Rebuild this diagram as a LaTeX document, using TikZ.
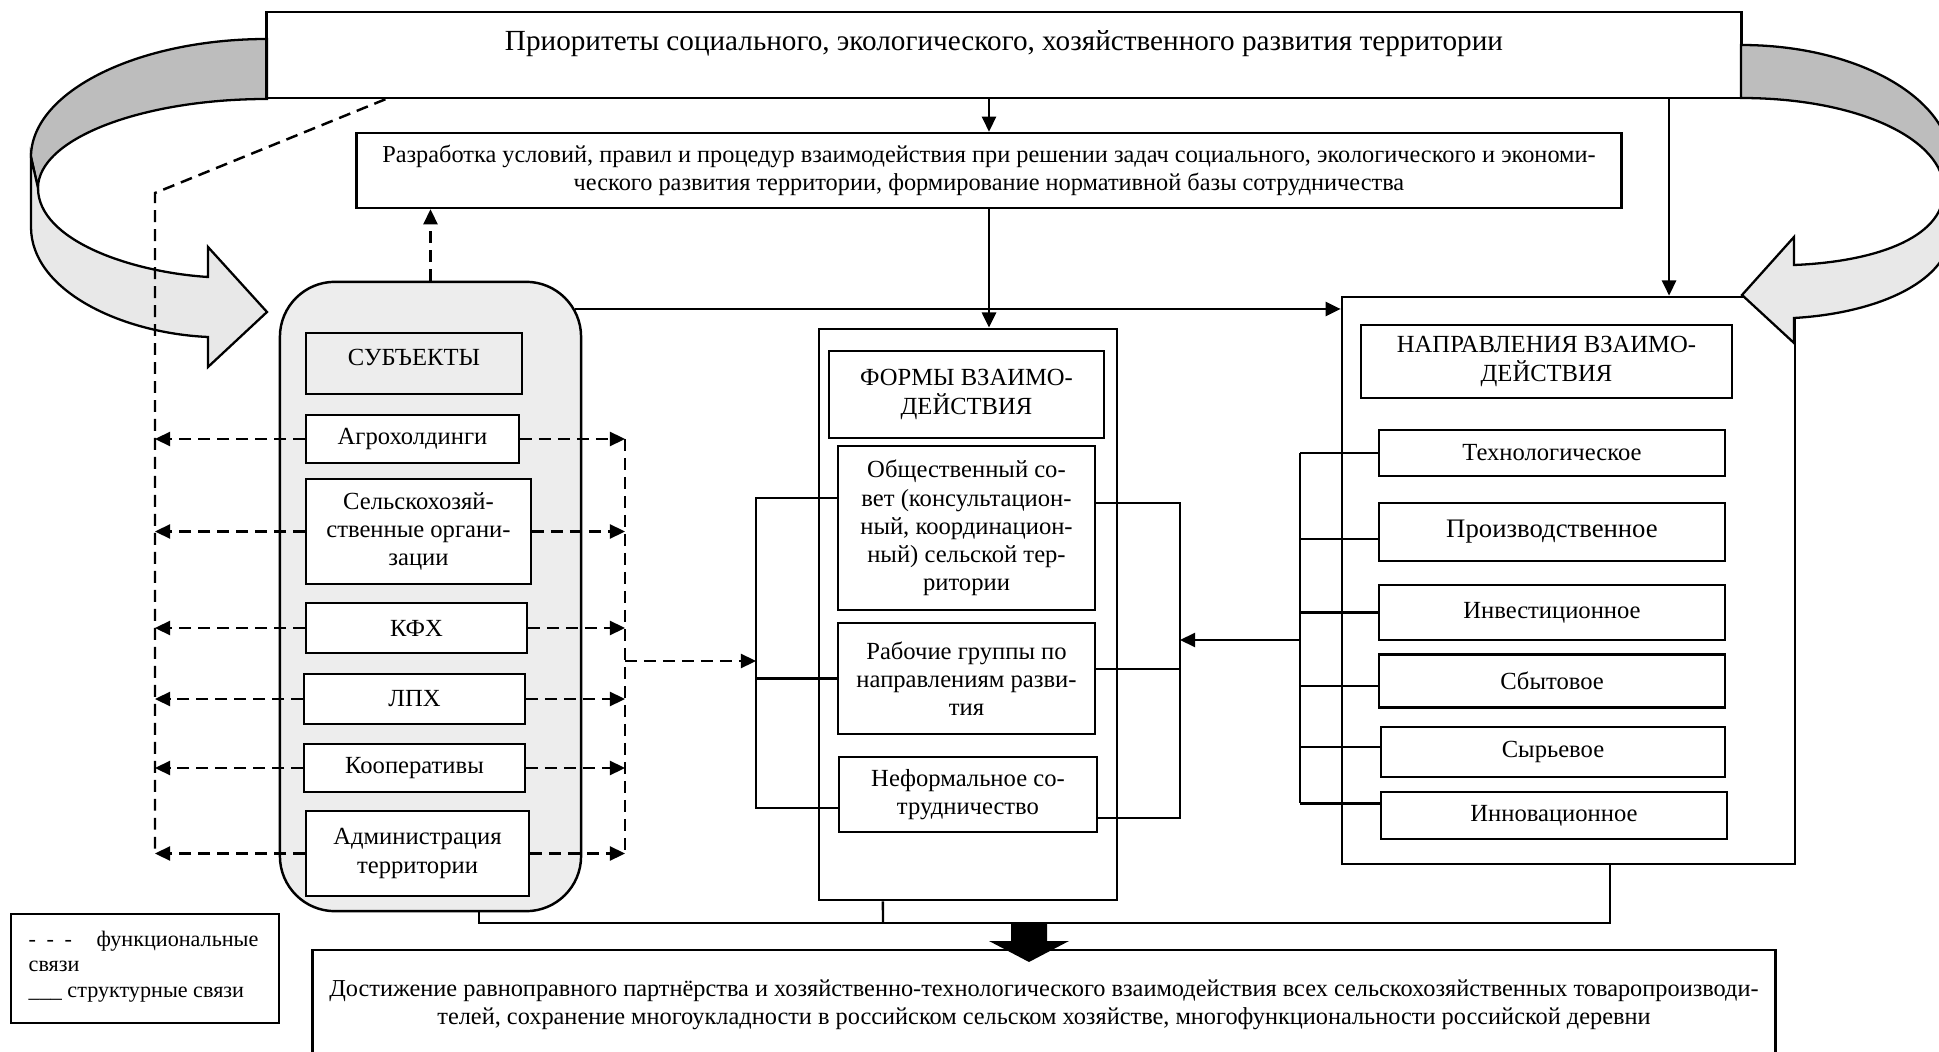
\documentclass[tikz,border=0pt]{standalone}
\usepackage{fontspec}
\setmainfont{Liberation Serif}
\usetikzlibrary{arrows.meta}
\newcommand\boxfont{\fontsize{7}{8}\selectfont}
\newcommand\longfont{\fontsize{6.92}{8}\selectfont}
\newcommand\bigfont{\fontsize{7.6}{8.6}\selectfont}
\newcommand\titlefont{\fontsize{8.3}{10}\selectfont}
\newcommand\legendfont{\fontsize{6.3}{7.3}\selectfont}

\begin{document}
\begin{tikzpicture}
    [x=0.01cm, y=-0.01cm, >={Triangle[length=4.3pt,width=4pt]},
     bigbox/.style={draw, line width=0.7pt, inner sep=0pt},
     box/.style={draw, line width=0.45pt, inner sep=0pt, align=center, font=\boxfont},
     dirbox/.style={box, line width=0.7pt},
     conn/.style={line width=0.7pt},
     func/.style={line width=0.7pt, dash pattern=on 3.4pt off 2pt},
     darkband/.style={draw, line width=0.65pt, fill=black!26},
     lightband/.style={draw, line width=0.65pt, fill=black!9}]
    \useasboundingbox (0,0) rectangle (1939,1052);
    \clip (0,0) rectangle (1939,1052);

    % left curved arrow
    \path[darkband] (267,39) .. controls (137,39) and (31,92) .. (31,157)
        -- (38,188) .. controls (38,139) and (141,99) .. (267,99) -- cycle;
    \path[lightband] (38,188) .. controls (38,240) and (130,272) .. (208,277)
        -- (208,247) -- (267,312) -- (208,367) -- (208,337)
        .. controls (120,333) and (31,290) .. (31,227) -- (31,157) -- cycle;

    % top boxes
    \node[bigbox, minimum width=14.74cm, minimum height=0.86cm] (prio) at (1004,55) {};
    \node[font=\titlefont] (priotext) at (1004,44)
        {Приоритеты социального, экологического, хозяйственного развития территории};
    \node[bigbox, align=center, font=\longfont, minimum width=12.64cm, minimum height=0.75cm, text depth=0.06cm] (dev) at (989,170.5)
        {Разработка условий, правил и процедур взаимодействия при решении задач социального, экологического и экономи-\\
         ческого развития территории, формирование нормативной базы сотрудничества};

    % subjects
    \node[bigbox, rounded corners=0.55cm, fill=black!7, minimum width=3.01cm, minimum height=6.29cm] (subj) at (430.5,596.5) {};
    \node[box, text depth=0.12cm, minimum width=2.16cm, minimum height=0.61cm] (subjhead) at (414,363.5) {СУБЪЕКТЫ};
    \node[box, fill=white, minimum width=2.13cm, minimum height=0.48cm] (agro) at (412.5,439) {Агрохолдинги};
    \node[box, fill=white, minimum width=2.25cm, minimum height=1.05cm] (sho) at (418.5,531.5) {Сельскохозяй-\\ственные органи-\\зации};
    \node[box, fill=white, minimum width=2.21cm, minimum height=0.50cm] (kfh) at (416.5,628) {КФХ};
    \node[box, fill=white, minimum width=2.21cm, minimum height=0.50cm] (lph) at (414.5,699) {ЛПХ};
    \node[box, fill=white, minimum width=2.21cm, minimum height=0.48cm] (coop) at (414.5,768) {Кооперативы};
    \node[box, fill=white, minimum width=2.23cm, minimum height=0.85cm] (adm) at (417.5,853.5) {Администрация\\территории};

    % forms
    \node[bigbox, minimum width=2.98cm, minimum height=5.71cm] (forms) at (968,614.5) {};
    \node[box, line width=0.4pt, minimum width=2.75cm, minimum height=0.87cm] (formshead) at (966.5,394.5) {ФОРМЫ ВЗАИМО-\\ДЕЙСТВИЯ};
    \node[box, minimum width=2.57cm, minimum height=1.64cm] (council) at (966.5,528)
        {Общественный со-\\вет (консультацион-\\ный, координацион-\\ный) сельской тер-\\ритории};
    \node[box, minimum width=2.57cm, minimum height=1.11cm] (groups) at (966.5,678.5) {Рабочие группы по\\направлениям разви-\\тия};
    \node[box, minimum width=2.58cm, minimum height=0.75cm] (informal) at (968,794.5) {Неформальное со-\\трудничество};

    % directions
    \node[bigbox, minimum width=4.53cm, minimum height=5.67cm] (dirs) at (1568.5,580.5) {};
    \node[box, line width=0.4pt, minimum width=3.71cm, minimum height=0.73cm] (dirshead) at (1546.5,361.5) {НАПРАВЛЕНИЯ ВЗАИМО-\\ДЕЙСТВИЯ};
    \node[dirbox, minimum width=3.46cm, minimum height=0.46cm] (tech) at (1552,453) {Технологическое};
    \node[dirbox, font=\bigfont, minimum width=3.46cm, minimum height=0.58cm] (prod) at (1552,532) {Производственное};
    \node[dirbox, minimum width=3.46cm, minimum height=0.55cm] (invest) at (1552,612.5) {Инвестиционное};
    \node[dirbox, minimum width=3.46cm, minimum height=0.53cm] (sales) at (1552,681) {Сбытовое};
    \node[dirbox, minimum width=3.44cm, minimum height=0.495cm] (raw) at (1553,752) {Сырьевое};
    \node[dirbox, minimum width=3.46cm, minimum height=0.47cm] (innov) at (1554,815.5) {Инновационное};

    % right curved arrow
    \path[darkband] (1741,45) .. controls (1860,45) and (1951,100) .. (1951,163)
        -- (1944,190) .. controls (1944,140) and (1860,98) .. (1741,98) -- cycle;
    \path[lightband] (1944,190) .. controls (1944,240) and (1870,262) .. (1794,265)
        -- (1794,237) -- (1742,295) -- (1794,343) -- (1794,318)
        .. controls (1880,313) and (1951,280) .. (1951,230) -- (1951,163) -- cycle;

    % result
    \node[bigbox, minimum width=14.62cm, minimum height=1.5cm] (goal) at (1044,1025) {};
    \node[font=\longfont, align=center] (goaltext) at (1044,1005)
        {Достижение равноправного партнёрства и хозяйственно-технологического взаимодействия всех сельскохозяйственных товаропроизводи-\\
         телей, сохранение многоукладности в российском сельском хозяйстве, многофункциональности российской деревни};
    \fill (1011,923) -- (1047,923) -- (1047,941) -- (1069,941) -- (1029,962) -- (989,941) -- (1011,941) -- cycle;

    % legend
    \node[draw, line width=0.45pt, minimum width=2.68cm, minimum height=1.09cm, inner sep=0pt] (legend) at (145,968.5) {};
    \node[font=\legendfont, align=left, anchor=north west, inner sep=0pt] (legendtext) at (28,930)
        {-\hspace{3pt}-\hspace{3pt}-\hspace{7pt}функциональные\\связи\\\_\_\_ структурные связи};

    % structural links
    \coordinate (subjout) at (575,309);
    \coordinate (formsL) at (756,498);
    \coordinate (formsR) at (1180,640);
    \coordinate (dirsL) at (1300,640);
    \coordinate (bus) at (883,923);
    \draw[conn,->] (prio.south -| dev.north) -- (dev.north);
    \draw[conn,->] (dev.south) -- (dev.south |- forms.north);
    \draw[conn,->] ([xshift=1.005cm]dirs.north |- prio.south) -- ([xshift=1.005cm]dirs.north);
    \draw[conn,->] (subjout) -- (subjout -| dirs.west);
    \draw[conn] ([yshift=0.3cm]council.west) -- ([yshift=0.3cm]council.west -| formsL)
        -- ([yshift=-0.135cm]informal.west -| formsL) -- ([yshift=-0.135cm]informal.west);
    \draw[conn] (groups.west) -- (groups.west -| formsL);
    \draw[conn] ([yshift=0.25cm]council.east) -- ([yshift=0.25cm]council.east -| formsR)
        -- ([yshift=-0.235cm]informal.east -| formsR) -- ([yshift=-0.235cm]informal.east);
    \draw[conn] ([yshift=0.095cm]groups.east) -- ([yshift=0.095cm]groups.east -| formsR);
    \foreach \n/\s in {tech/0, prod/-0.07, invest/0, sales/-0.05, raw/0.05, innov/0.12}
        \draw[conn] ([yshift=\s cm]\n.west) -- ([yshift=\s cm]\n.west -| dirsL);
    \draw[conn] (tech.west -| dirsL) -- ([yshift=0.12cm]innov.west -| dirsL);
    \draw[conn,->] (dirsL) -- (formsR);
    \draw[conn] ([xshift=0.485cm]subj.south) -- ([xshift=0.485cm]subj.south |- bus)
        -- ([xshift=0.415cm]dirs.south |- bus) -- ([xshift=0.415cm]dirs.south);
    \draw[conn] ([xshift=-0.85cm]forms.south) -- (bus);

    % functional links
    \coordinate (lbus) at (155,193);
    \coordinate (rbus) at (625,661);
    \draw[func,->] (subj.north) -- (subj.north |- dev.south);
    \draw[func] ([xshift=1.2cm]prio.south west) -- (lbus) -- (lbus |- adm.west);
    \draw[func] (agro.east -| rbus) -- (adm.east -| rbus);
    \foreach \n in {agro,sho,kfh,lph,coop,adm}
    {
        \draw[func,->] (\n.west) -- (\n.west -| lbus);
        \draw[func,->] (\n.east) -- (\n.east -| rbus);
    }
    \draw[func,->] (rbus) -- (rbus -| formsL);
\end{tikzpicture}
\end{document}
